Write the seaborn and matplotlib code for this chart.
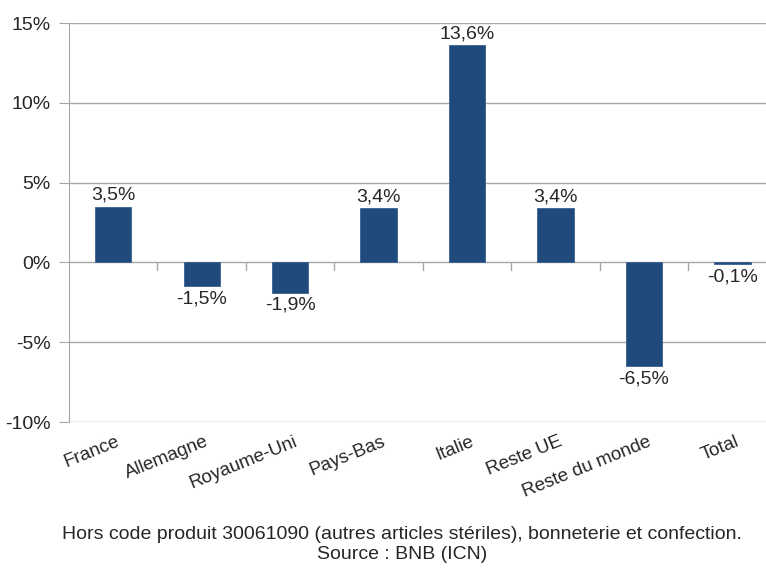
import matplotlib
matplotlib.use("Agg")
import matplotlib.pyplot as plt
import seaborn as sns
import pandas as pd

# Data
pays = ["France", "Allemagne", "Royaume-Uni", "Pays-Bas", "Italie",
        "Reste UE", "Reste du monde", "Total"]
variation = [3.5, -1.5, -1.9, 3.4, 13.6, 3.4, -6.5, -0.1]
y_ticks = [-10, -5, 0, 5, 10, 15]
note = ("Hors code produit 30061090 (autres articles stériles), bonneterie et confection.\n"
        "Source : BNB (ICN)")

df = pd.DataFrame({"pays": pays, "variation": variation})

sns.set_style("white")
plt.rcParams["font.family"] = ["Liberation Sans Narrow", "Liberation Sans", "DejaVu Sans"]

fig = plt.figure(figsize=(7.66, 5.70), dpi=100)
# plot area runs slightly past the right edge, like the original
ax = fig.add_axes([0.090, 0.2596, 0.924, 0.7000])

sns.barplot(data=df, x="pays", y="variation", color="#1f4a7c",
            width=0.41, saturation=1, edgecolor="#3a5f8f", linewidth=0.6, ax=ax)

ax.set_ylim(-10, 15)
ax.set_xlim(-0.5, len(pays) - 0.5)
ax.set_yticks(y_ticks)
ax.set_yticklabels([f"{t}%" for t in y_ticks], fontsize=14)
ax.yaxis.grid(True, color="#a6a6a6", linewidth=1)
ax.set_axisbelow(True)
ax.set_xlabel("")
ax.set_ylabel("")

for s in ["top", "right", "bottom"]:
    ax.spines[s].set_visible(False)
ax.spines["left"].set_color("#a6a6a6")
ax.tick_params(axis="y", which="both", left=True, length=7, color="#a6a6a6", pad=6)
ax.tick_params(axis="x", length=0, pad=8)

ax.set_xticks(range(len(pays)))
ax.set_xticklabels(pays, rotation=22, ha="right", va="top",
                   rotation_mode="anchor", fontsize=13.5)
offset = matplotlib.transforms.ScaledTranslation(0.03, 0, fig.dpi_scale_trans)
for lab in ax.get_xticklabels():
    lab.set_transform(lab.get_transform() + offset)

# small category tick marks on the zero line
for i in range(1, len(pays)):
    ax.plot([i - 0.5, i - 0.5], [0, -0.45], color="#a6a6a6", linewidth=1)

# value labels
for i, v in enumerate(variation):
    txt = f"{v:.1f}%".replace(".", ",")
    if v >= 0:
        ax.annotate(txt, (i, v), xytext=(0, 2), textcoords="offset points",
                    ha="center", va="bottom", fontsize=14)
    else:
        ax.annotate(txt, (i, v), xytext=(0, -3), textcoords="offset points",
                    ha="center", va="top", fontsize=14)

fig.text(0.525, 0.045, note, ha="center", va="center", fontsize=14, linespacing=1.25)

fig.savefig("out.png", dpi=100)
